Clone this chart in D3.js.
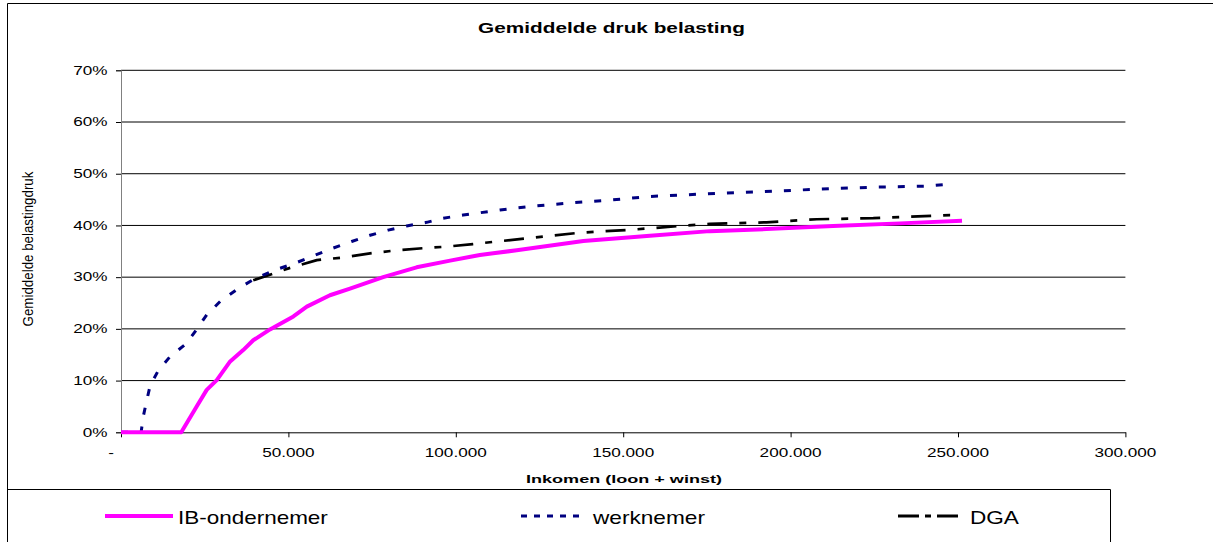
<!DOCTYPE html>
<html>
<head>
<meta charset="utf-8">
<script src="https://cdn.jsdelivr.net/npm/d3@7"></script>
<style>
html,body{margin:0;padding:0;background:#fff;}
svg{display:block;font-family:"Liberation Sans",Arial,sans-serif;}
</style>
</head>
<body>
<svg id="chart" width="1213" height="542"></svg>
<script>
// ---- data ----
const chartTitle = "Gemiddelde druk belasting";
const xAxisTitle = "Inkomen (loon + winst)";
const yAxisTitle = "Gemiddelde belastingdruk";
const xTicks = [0, 50000, 100000, 150000, 200000, 250000, 300000];
const yTicks = [0, 0.1, 0.2, 0.3, 0.4, 0.5, 0.6, 0.7];
const seriesNames = ["IB-ondernemer", "werknemer", "DGA"];

const ibIncome = [0, 18000, 22600, 25600, 28600, 32600, 36500, 39500, 44500, 51500, 55500, 62400, 68400, 78300, 88300, 98300, 107200, 118200, 138100, 158000, 175900, 192800, 212700, 232700, 251200];
const ibPct    = [0, 0, 5.0, 8.2, 10.1, 13.7, 15.9, 17.8, 19.9, 22.4, 24.3, 26.5, 27.8, 30.0, 31.9, 33.2, 34.3, 35.2, 37.0, 38.0, 38.9, 39.3, 39.9, 40.4, 40.9];

const wnIncome = [0, 6000, 6700, 7700, 8700, 11100, 14600, 19600, 22600, 25600, 29600, 35000, 40000, 46000, 52000, 57400, 63300, 68900, 74400, 79800, 85300, 91300, 96200, 102200, 113200, 124200, 135100, 146000, 158000, 174400, 190900, 207800, 224700, 240700, 247600];
const wnPct    = [0, 0, 3.2, 6.2, 9.0, 11.9, 14.6, 17.2, 19.9, 22.7, 25.3, 27.8, 29.7, 31.4, 32.7, 34.1, 35.6, 36.9, 38.1, 39.1, 39.9, 40.6, 41.4, 42.0, 43.0, 43.8, 44.4, 44.9, 45.6, 46.1, 46.5, 47.0, 47.4, 47.6, 48.0];

const dgaIncome = [39500, 45500, 50500, 58500, 66300, 74400, 82300, 90200, 97300, 105100, 121200, 137100, 153000, 169000, 175900, 192800, 207800, 224700, 247600, 251000];
const dgaPct    = [29.4, 30.7, 31.8, 33.3, 33.8, 34.6, 35.2, 35.6, 35.9, 36.4, 37.5, 38.6, 39.2, 40.0, 40.3, 40.6, 41.2, 41.4, 42.0, 42.0];

// ---- layout ----
const svg = d3.select("#chart");
const X0 = 121, X1 = 1125.4, Y0 = 432.3, Y1 = 70.3;
const x = d3.scaleLinear().domain([0, 300000]).range([X0, X1]);
const y = d3.scaleLinear().domain([0, 0.7]).range([Y0, Y1]);
const SX = 1.43;

function stext(parent, str, px, py, opt) {
  const t = parent.append("text").text(str)
    .attr("font-size", opt.size)
    .attr("font-weight", opt.weight || "normal")
    .attr("text-anchor", opt.anchor || "start")
    .attr("fill", "#000");
  let sx = opt.sx || 1;
  if (opt.width) sx = opt.width / t.node().getComputedTextLength();
  t.attr("transform", `translate(${px},${py}) scale(${sx},1)`);
  return t;
}

// frame
svg.append("line").attr("x1", 7.5).attr("x2", 1213).attr("y1", 3.5).attr("y2", 3.5).attr("stroke", "#000");
svg.append("line").attr("x1", 7.5).attr("x2", 7.5).attr("y1", 3.5).attr("y2", 542).attr("stroke", "#000");
// legend box
svg.append("path").attr("d", "M7.5,489.5 H1110.5 V542").attr("fill", "none").attr("stroke", "#000");

// title
stext(svg, chartTitle, 611.5, 33, {size: 14, weight: "bold", anchor: "middle", width: 267});

// gridlines
svg.append("g").selectAll("line").data(yTicks.filter(d => d > 0)).join("line")
  .attr("x1", X0).attr("x2", X1).attr("y1", d => y(d)).attr("y2", d => y(d))
  .attr("stroke", "#000").attr("stroke-width", 1);

// y axis
const yAxis = d3.axisLeft(y).tickValues(yTicks).tickSize(5).tickFormat("");
const gy = svg.append("g").attr("transform", `translate(${X0},0)`).call(yAxis);
gy.select(".domain").attr("stroke", "#808080");
gy.selectAll(".tick line").attr("stroke", "#000");
yTicks.forEach(d => stext(svg, d3.format(".0%")(d), 107.5, y(d) + 4.3, {size: 12, anchor: "end", sx: SX}));

// x axis
const xAxis = d3.axisBottom(x).tickValues(xTicks).tickSize(5).tickSizeOuter(0).tickFormat("");
const gx = svg.append("g").attr("transform", `translate(0,${Y0})`).call(xAxis);
gx.select(".domain").attr("stroke", "#000");
gx.selectAll(".tick line").attr("stroke", "#000");
const fmtX = d => d === 0 ? "-" : d3.format(",")(d).replace(/,/g, ".");
xTicks.forEach(d => stext(svg, fmtX(d), d === 0 ? x(d) - 10 : x(d), 456.5, {size: 12, anchor: "middle", sx: SX}));

// axis titles
stext(svg, xAxisTitle, 624, 483, {size: 11, weight: "bold", anchor: "middle", width: 196});
{
  const t = svg.append("text").text(yAxisTitle).attr("font-size", 10).attr("text-anchor", "middle").attr("fill", "#000");
  const k = 155 / t.node().getComputedTextLength();
  t.attr("transform", `translate(33,249) scale(${SX},1) rotate(-90) scale(${k},1)`);
}

// series
const styles = [
  {color: "#FF00FF", width: 4, dash: null},
  {color: "#000080", width: 3, dash: "7,12"},
  {color: "#000000", width: 2.7, dash: "20,12,7,12"}
];
const series = [
  ibIncome.map((v, i) => [v, ibPct[i] / 100]),
  wnIncome.map((v, i) => [v, wnPct[i] / 100]),
  dgaIncome.map((v, i) => [v, dgaPct[i] / 100])
];
const line = d3.line().x(d => x(d[0])).y(d => y(d[1]));
const drawOrder = [2, 1, 0];
drawOrder.forEach(i => {
  svg.append("path").datum(series[i]).attr("d", line)
    .attr("fill", "none").attr("stroke", styles[i].color)
    .attr("stroke-width", styles[i].width)
    .attr("stroke-dasharray", styles[i].dash)
    .attr("stroke-linejoin", "round");
});

// legend
const legX = [[105, 173, 178, 150], [521, 584, 593, 112], [898, 963, 970, 49]];
const legendDash = [null, "6,7", "21,6,6,6"];
seriesNames.forEach((n, i) => {
  svg.append("line").attr("x1", legX[i][0]).attr("x2", legX[i][1]).attr("y1", 516).attr("y2", 516)
    .attr("stroke", styles[i].color).attr("stroke-width", i === 0 ? 4 : 3)
    .attr("stroke-dasharray", legendDash[i]);
  stext(svg, n, legX[i][2], 523.5, {size: 19, anchor: "start", width: legX[i][3]});
});
</script>
</body>
</html>
